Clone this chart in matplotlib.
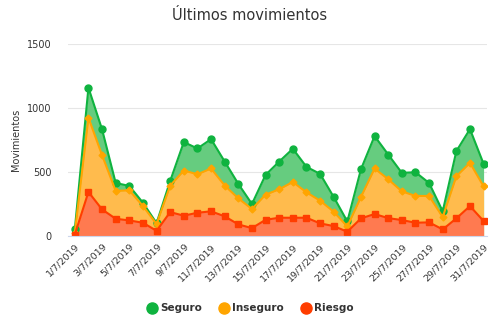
import matplotlib
matplotlib.use("Agg")
import matplotlib.pyplot as plt
from matplotlib.lines import Line2D

# Data (July 2019)
days = list(range(1, 32))
seguro = [55, 1160, 835, 417, 394, 263, 104, 433, 736, 686, 759, 584, 410, 253,
          480, 584, 684, 543, 488, 308, 117, 524, 783, 639, 496, 501, 417, 196,
          665, 837, 566]
inseguro = [30, 926, 634, 355, 360, 237, 97, 397, 514, 485, 530, 397, 297, 214,
            326, 368, 425, 344, 279, 193, 78, 308, 530, 446, 352, 316, 316, 151,
            470, 574, 391]
riesgo = [15, 347, 211, 138, 125, 107, 44, 190, 162, 185, 196, 157, 94, 65,
          130, 146, 146, 146, 102, 81, 37, 141, 175, 143, 128, 107, 110, 55,
          141, 237, 120]
labels = ["%d/7/2019" % d for d in days]

fig = plt.figure(figsize=(5, 3.34), dpi=100)
ax = fig.add_axes([0.136, 0.292, 0.838, 0.576])

x = list(range(len(days)))
series = [
    ("Seguro", seguro, "#0fb33f", "#66cc7f", "o", 5),
    ("Inseguro", inseguro, "#ffa500", "#ffbb4d", "D", 3.5),
    ("Riesgo", riesgo, "#ff3d00", "#ff7a50", "s", 5),
]
for name, vals, col, fill, mk, ms in series:
    ax.fill_between(x, 0, vals, color=fill, lw=0)
    ax.plot(x, vals, color=col, lw=1.5, marker=mk, ms=ms)

ax.set_xlim(-0.5, 30.25)
ax.set_ylim(0, 1500)
ax.set_yticks([0, 500, 1000, 1500])
ax.set_xticks(x[::2])
ax.set_xticklabels(labels[::2], rotation=45, ha="right", rotation_mode="anchor")
ax.tick_params(axis="x", labelsize=6.8, colors="#333333", length=0, pad=4)
ax.tick_params(axis="y", labelsize=7, colors="#333333", length=0, pad=12)
ax.grid(axis="y", color="#e6e6e6", lw=0.8)
ax.set_axisbelow(True)
for s in ["top", "right", "left"]:
    ax.spines[s].set_visible(False)
ax.spines["bottom"].set_color("#ccd6eb")
ax.set_ylabel("Movimientos", fontsize=7, color="#333333", labelpad=4)

fig.text(0.5, 0.955, "Últimos movimientos", ha="center", va="center",
         fontsize=10.5, color="#333333")

handles = [Line2D([], [], ls="none", marker="o", ms=8, color=c)
           for _, _, c, _, _, _ in series]
leg = fig.legend(handles, [s[0] for s in series], loc="center",
                 bbox_to_anchor=(0.5, 0.077), ncol=3, frameon=False,
                 prop={"size": 7.5, "weight": "bold"}, handletextpad=0.3,
                 columnspacing=1.6, handlelength=1.0)
for t in leg.get_texts():
    t.set_color("#333333")

fig.savefig("out.png", dpi=100)
